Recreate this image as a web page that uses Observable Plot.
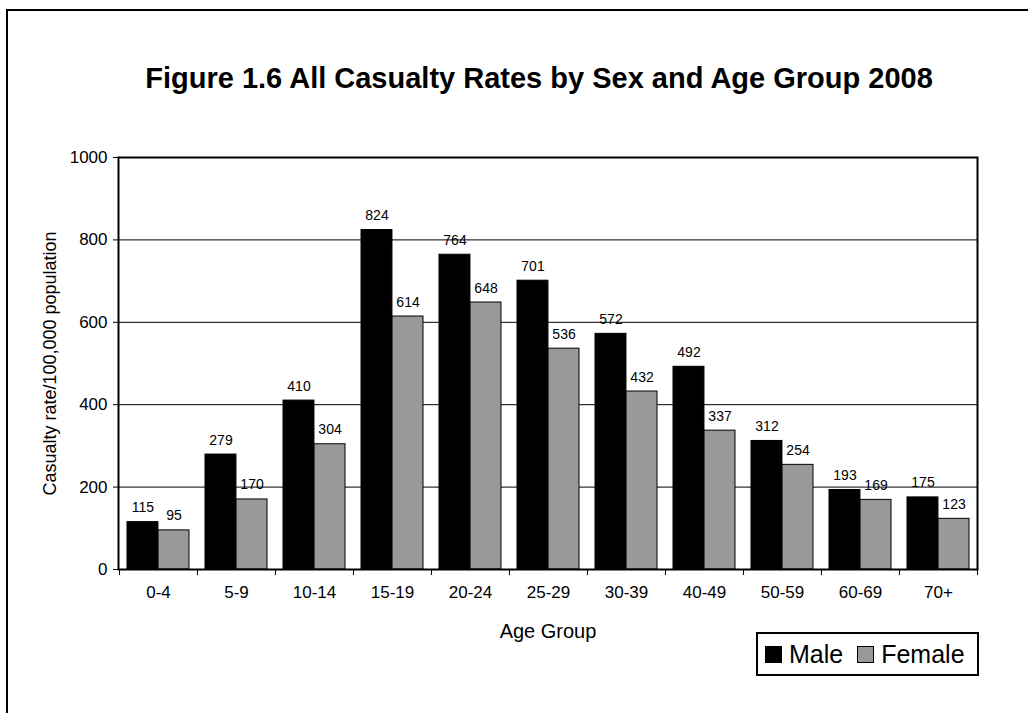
<!DOCTYPE html>
<html><head><meta charset="utf-8">
<script src="https://cdn.jsdelivr.net/npm/d3@7"></script>
<script src="https://cdn.jsdelivr.net/npm/@observablehq/plot@0.6"></script>
<style>
html,body{margin:0;padding:0;width:1028px;height:713px;overflow:hidden;background:#fff;font-family:"Liberation Sans",Arial,sans-serif;color:#000;}
#border{position:absolute;left:6px;top:9px;width:1040px;height:720px;border:2px solid #000;box-sizing:border-box;}
#chart{position:absolute;left:0;top:0;}
#title{position:absolute;left:39px;width:1000px;top:64px;text-align:center;font-weight:bold;font-size:29px;line-height:29px;white-space:nowrap;}
#legend{position:absolute;left:756px;top:632px;width:223px;height:44px;box-sizing:border-box;border:2px solid #000;background:#fff;display:flex;align-items:center;padding-left:7px;font-size:25px;white-space:nowrap;}
#legend .sw{width:17px;height:17px;box-sizing:border-box;border:1px solid #000;margin-right:7px;flex:none;}
#legend .item{display:flex;align-items:center;margin-right:14px;}
</style></head><body>
<div id="border"></div>
<div id="chart"></div>
<div id="title"></div>
<div id="legend"></div>
<script>
const title = "Figure 1.6 All Casualty Rates by Sex and Age Group 2008";
const ageGroups = ["0-4","5-9","10-14","15-19","20-24","25-29","30-39","40-49","50-59","60-69","70+"];
const male = [115,279,410,824,764,701,572,492,312,193,175];
const female = [95,170,304,614,648,536,432,337,254,169,123];
const series = ["Male","Female"];
const colors = ["#000000","#999999"];
const yTicks = [0,200,400,600,800,1000];
const yLabel = "Casualty rate/100,000 population";
const xLabel = "Age Group";

const W = 1028, H = 713, mL = 118, mR = 51, mT = 157, mB = 144;
const step = (W - mL - mR) / ageGroups.length;
const gap = 8;
const maleRows = ageGroups.map((g, i) => ({group: g, sex: series[0], value: male[i]}));
const femaleRows = ageGroups.map((g, i) => ({group: g, sex: series[1], value: female[i]}));

const plot = Plot.plot({
  width: W, height: H,
  marginLeft: mL, marginRight: mR, marginTop: mT, marginBottom: mB,
  style: {fontFamily: '"Liberation Sans", Arial, sans-serif', fontSize: "17px", color: "#000", background: "transparent"},
  x: {domain: ageGroups, padding: 0, label: null, axis: null},
  y: {domain: [0, 1000], label: null, axis: null},
  color: {domain: series, range: colors},
  marks: [
    Plot.ruleY(yTicks.slice(1, -1), {stroke: "#000", strokeWidth: 1}),
    Plot.barY(maleRows, {x: "group", y: "value", fill: "sex", stroke: "#000", strokeWidth: 1, insetLeft: gap, insetRight: step / 2}),
    Plot.barY(femaleRows, {x: "group", y: "value", fill: "sex", stroke: "#000", strokeWidth: 1, insetLeft: step / 2, insetRight: gap}),
    Plot.text(maleRows, {x: "group", y: "value", text: d => String(d.value), dx: gap / 2 - step / 4, dy: -10, lineAnchor: "bottom", fontSize: 14}),
    Plot.text(femaleRows, {x: "group", y: "value", text: d => String(d.value), dx: step / 4 - gap / 2, dy: -10, lineAnchor: "bottom", fontSize: 14}),
    Plot.frame({stroke: "#000", strokeWidth: 2}),
    Plot.axisY({ticks: yTicks, tickSize: 5, tickPadding: 6, label: null, fontSize: 17, tickFormat: d => String(d)}),
    Plot.axisX({tickSize: 0, tickPadding: 16, label: null, fontSize: 17}),
    Plot.ruleX(ageGroups, {x: d => d, y1: 0, y2: 0, dx: -step / 2, insetBottom: -6, stroke: "#000", strokeWidth: 1}),
    Plot.ruleX(ageGroups.slice(-1), {x: d => d, y1: 0, y2: 0, dx: step / 2, insetBottom: -6, stroke: "#000", strokeWidth: 1}),
    Plot.text([yLabel], {frameAnchor: "left", textAnchor: "middle", rotate: -90, dx: -68, fontSize: 18, text: d => d}),
    Plot.text([xLabel], {frameAnchor: "bottom", dy: 54, lineAnchor: "top", fontSize: 20, text: d => d})
  ]
});
document.getElementById("chart").appendChild(plot);
document.getElementById("title").textContent = title;

const legend = document.getElementById("legend");
series.forEach((s, i) => {
  const item = document.createElement("div");
  item.className = "item";
  const sw = document.createElement("span");
  sw.className = "sw";
  sw.style.background = colors[i];
  const lab = document.createElement("span");
  lab.textContent = s;
  item.appendChild(sw);
  item.appendChild(lab);
  legend.appendChild(item);
});
</script>
</body></html>
